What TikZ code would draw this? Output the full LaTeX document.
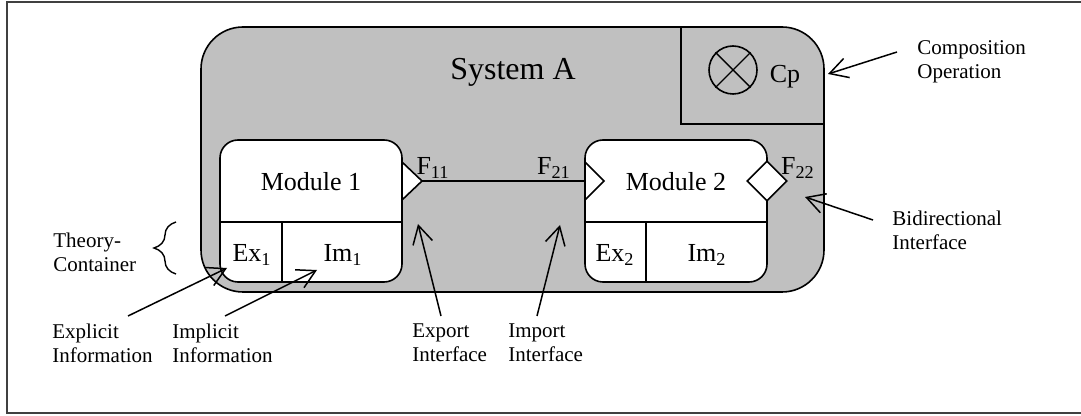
\documentclass[tikz,border=0pt]{standalone}
\usepackage{fontspec}
\setmainfont{Liberation Serif}
\usetikzlibrary{arrows.meta,shapes.geometric,decorations.pathreplacing}
\definecolor{sysGray}{RGB}{192,192,192}

\begin{document}
\begin{tikzpicture}[x=0.5pt,y=-0.5pt,
    sysBox/.style={draw,line width=0.8pt,fill=sysGray,rounded corners=21pt,minimum width=311.5pt,minimum height=132.5pt,inner sep=0pt},
    modBox/.style={draw,line width=0.8pt,fill=white,rounded corners=9pt,minimum width=91pt,minimum height=71pt,inner sep=0pt},
    partLn/.style={line width=0.7pt},
    portShape/.style={draw,line width=0.8pt,fill=white,line join=miter},
    noteArr/.style={-{Straight Barb[length=9pt,width=10pt]},line width=0.75pt},
    noteTxt/.style={font=\fontsize{10.5}{12}\selectfont,align=left,inner sep=0pt,anchor=west},
    modTxt/.style={font=\fontsize{13}{15}\selectfont,inner sep=0pt},
]
\useasboundingbox (0,0) rectangle (1081,416);
\clip (0,0) rectangle (1081,416);
\draw[line width=1pt,black!75] (7,2) rectangle (1100,413);
% system and composition corner
\node[sysBox] (sysA) at (512.5,159.5) {};
\node[font=\fontsize{16}{18}\selectfont,inner sep=0pt] (sysTitle) at (513,72) {System A};
\draw[partLn] (681,27) -- (681,124) -- (824,124);
\node[draw,circle,line width=0.8pt,minimum size=24pt,inner sep=0pt] (op) at (733,70) {};
\draw[partLn] (op.north west) -- (op.south east);
\draw[partLn] (op.north east) -- (op.south west);
\node[modTxt] (cp) at (785,77) {Cp};
% modules
\node[modBox] (mod1) at (311,211) {};
\node[modBox] (mod2) at (676,211) {};
\draw[partLn] (220,222) -- (402,222);
\draw[partLn] (282,222) -- (282,282);
\draw[partLn] (585,222) -- (767,222);
\draw[partLn] (646,222) -- (646,282);
\node[modTxt] (m1) at (311,182) {Module 1};
\node[modTxt] (m2) at (676,182) {Module 2};
\node[modTxt] (ex1) at (252,255) {Ex\textsubscript{1}};
\node[modTxt] (im1) at (343,255) {Im\textsubscript{1}};
\node[modTxt] (ex2) at (615,255) {Ex\textsubscript{2}};
\node[modTxt] (im2) at (707,255) {Im\textsubscript{2}};
% interfaces
\coordinate (p11) at (402,181);
\coordinate (p21) at (585,181);
\draw[portShape] (p11) ++(0,-19) -- ++(20,19) coordinate (f11) -- ++(-20,19) -- cycle;
\draw[portShape] (p21) ++(0,-19) -- ++(19,19) -- ++(-19,19) -- cycle;
\draw[line width=0.8pt] (f11) -- (p21);
\node[diamond,portShape,minimum size=20pt,inner sep=0pt] (f22) at (767,181) {};
\node[modTxt] (l11) at (433,168) {F\textsubscript{11}};
\node[modTxt] (l21) at (554,168) {F\textsubscript{21}};
\node[modTxt] (l22) at (798,168) {F\textsubscript{22}};
% notes
\node[noteTxt] (compTxt) at (917,62) {Composition\\Operation};
\node[noteTxt] (bidiTxt) at (892,230) {Bidirectional\\Interface};
\node[noteTxt] (thTxt) at (53,252) {Theory-\\Container};
\node[noteTxt] (explTxt) at (52,343) {Explicit\\Information};
\node[noteTxt] (implTxt) at (172,343) {Implicit\\Information};
\node[noteTxt] (expTxt) at (412,343) {Export\\Interface};
\node[noteTxt] (impTxt) at (508,343) {Import\\Interface};
\coordinate (cpTip) at (828,74);
\coordinate (bidiTip) at (805,197);
\coordinate (explTip) at (227,268);
\coordinate (implTip) at (317,270);
\coordinate (expTip) at (418,224);
\coordinate (impTip) at (560,225);
\draw[noteArr] ([xshift=-10pt,yshift=5pt]compTxt.west) -- (cpTip);
\draw[noteArr] ([xshift=-9.5pt,yshift=5pt]bidiTxt.west) -- (bidiTip);
\draw[noteArr] ([xshift=38pt,yshift=13.5pt]explTxt.west) -- (explTip);
\draw[noteArr] ([xshift=26.5pt,yshift=13.5pt]implTxt.west) -- (implTip);
\draw[noteArr] ([xshift=14.5pt,yshift=13.5pt]expTxt.west) -- (expTip);
\draw[noteArr] ([xshift=14.5pt,yshift=13.5pt]impTxt.west) -- (impTip);
\draw[line width=0.7pt,decorate,decoration={brace,amplitude=11pt}] (176,274) -- (176,222);
\end{tikzpicture}
\end{document}
